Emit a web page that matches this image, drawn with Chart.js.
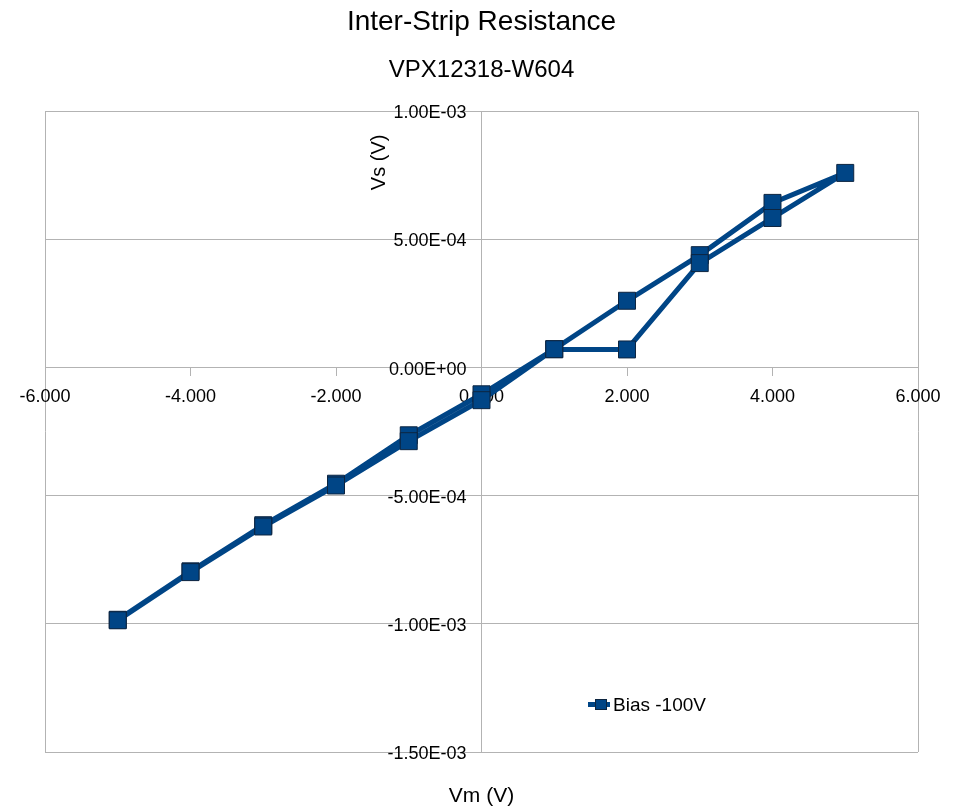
<!DOCTYPE html>
<html>
<head>
<meta charset="utf-8">
<script src="https://cdn.jsdelivr.net/npm/chart.js@4.4.0/dist/chart.umd.min.js"></script>
<style>
  html, body { margin: 0; padding: 0; background: #fff; }
  #wrap { position: relative; width: 957px; height: 807px; }
  #legend { position: absolute; left: 588px; top: 694px; font-family: "Liberation Sans", Arial, sans-serif; font-size: 19px; color: #000; display: flex; align-items: center; height: 22px; }
  #legend .icon { position: relative; width: 22px; height: 12px; margin-right: 3px; }
  #legend .icon .ln { position: absolute; left: 0; right: 0; top: 3px; height: 5px; background: #004586; }
  #legend .icon .sq { position: absolute; left: 7px; top: 0; width: 12px; height: 11px; background: #004586; border: 1px solid #0d2540; box-sizing: border-box; }
</style>
</head>
<body>
<div id="wrap">
  <canvas id="c" width="957" height="807"></canvas>
  <div id="legend"><div class="icon"><div class="ln"></div><div class="sq"></div></div><span id="legendText"></span></div>
</div>
<script>
const chartTitle = "Inter-Strip Resistance";
const chartSubtitle = "VPX12318-W604";
const seriesName = "Bias -100V";
const xAxisTitle = "Vm (V)";
const yAxisTitle = "Vs (V)";
// Measured sweep order: -5 -> +5 -> -5
const vm = [-5, -4, -3, -2, -1, 0, 1, 2, 3, 4, 5, 4, 3, 2, 1, 0, -1, -2, -3, -4, -5];
const vs = [-9.84e-4, -7.95e-4, -6.15e-4, -4.53e-4, -2.64e-4, -1.04e-4, 7.2e-5, 2.61e-4, 4.39e-4, 6.43e-4, 7.60e-4,
            5.84e-4, 4.08e-4, 7.1e-5, 7.2e-5, -1.27e-4, -2.87e-4, -4.60e-4, -6.20e-4, -7.98e-4, -9.86e-4];
const xTicks = [-6, -4, -2, 0, 2, 4, 6];
const yTicks = [-1.5e-3, -1.0e-3, -5.0e-4, 0, 5.0e-4, 1.0e-3];

document.getElementById('legendText').textContent = seriesName;

const FONT = '"Liberation Sans", Arial, sans-serif';
const GRID = '#b3b3b3';
const BLUE = '#004586';

function fmtY(v) {
  if (Math.abs(v) < 1e-12) return '0.00E+00';
  let s = v.toExponential(2).toUpperCase();
  return s.replace(/E([+-])(\d)$/, 'E$10$2');
}

const yTitlePlugin = {
  id: 'yTitle',
  afterDraw(chart) {
    const ctx = chart.ctx;
    const x = chart.scales.x.getPixelForValue(0) - 102;
    const y = chart.chartArea.top + 51;
    ctx.save();
    ctx.translate(x, y);
    ctx.rotate(-Math.PI / 2);
    ctx.font = '20px ' + FONT;
    ctx.fillStyle = '#000';
    ctx.textAlign = 'center';
    ctx.textBaseline = 'middle';
    ctx.fillText(yAxisTitle, 0, 0);
    ctx.restore();
  }
};

new Chart(document.getElementById('c'), {
  type: 'scatter',
  data: {
    datasets: [{
      label: seriesName,
      data: vm.map((x, i) => ({x: x, y: vs[i]})),
      showLine: true,
      borderColor: BLUE,
      borderWidth: 5,
      backgroundColor: BLUE,
      pointStyle: 'rect',
      pointRadius: 12,
      pointHoverRadius: 12,
      pointBackgroundColor: BLUE,
      pointBorderColor: '#0d2540',
      pointBorderWidth: 1,
      tension: 0
    }]
  },
  plugins: [yTitlePlugin],
  options: {
    responsive: false,
    animation: false,
    events: [],
    layout: { padding: { left: 45, right: 39, top: 0, bottom: 0 } },
    plugins: {
      legend: { display: false },
      tooltip: { enabled: false },
      title: {
        display: true, text: chartTitle, color: '#000',
        font: { family: FONT, size: 28, weight: 'normal' },
        padding: { top: 5, bottom: 17 }
      },
      subtitle: {
        display: true, text: chartSubtitle, color: '#000',
        font: { family: FONT, size: 24, weight: 'normal' },
        padding: { top: 0, bottom: 27 }
      }
    },
    scales: {
      x: {
        type: 'linear', min: -6, max: 6,
        position: { y: 0 },
        afterBuildTicks: (s) => { s.ticks = xTicks.map(v => ({value: v})); },
        ticks: {
          color: '#000', font: { family: FONT, size: 18 }, padding: 11,
          callback: (v) => Number(v).toFixed(3), maxRotation: 0, autoSkip: false
        },
        grid: {
          color: (ctx) => (ctx.tick && (ctx.tick.value === -6 || ctx.tick.value === 6)) ? GRID : 'rgba(0,0,0,0)',
          tickColor: GRID, tickLength: 8, lineWidth: 1
        },
        border: { display: true, color: GRID }
      },
      y: {
        type: 'linear', min: -1.5e-3, max: 1.0e-3,
        position: { x: 0 },
        afterBuildTicks: (s) => { s.ticks = yTicks.map(v => ({value: v})); },
        ticks: {
          color: '#000', font: { family: FONT, size: 18 }, padding: 8, labelOffset: 2,
          callback: (v) => fmtY(v) + '   ', autoSkip: false
        },
        grid: { color: GRID, tickColor: GRID, tickLength: 6, lineWidth: 1 },
        border: { display: true, color: GRID }
      },
      x2: {
        type: 'linear', min: -6, max: 6, position: 'bottom', axis: 'x',
        ticks: { display: false },
        grid: { display: false, drawTicks: false },
        border: { display: false },
        title: {
          display: true, text: xAxisTitle, color: '#000',
          font: { family: FONT, size: 21, lineHeight: 1.0 }, padding: { top: 34, bottom: 0 }
        }
      }
    }
  }
});
</script>
</body>
</html>
